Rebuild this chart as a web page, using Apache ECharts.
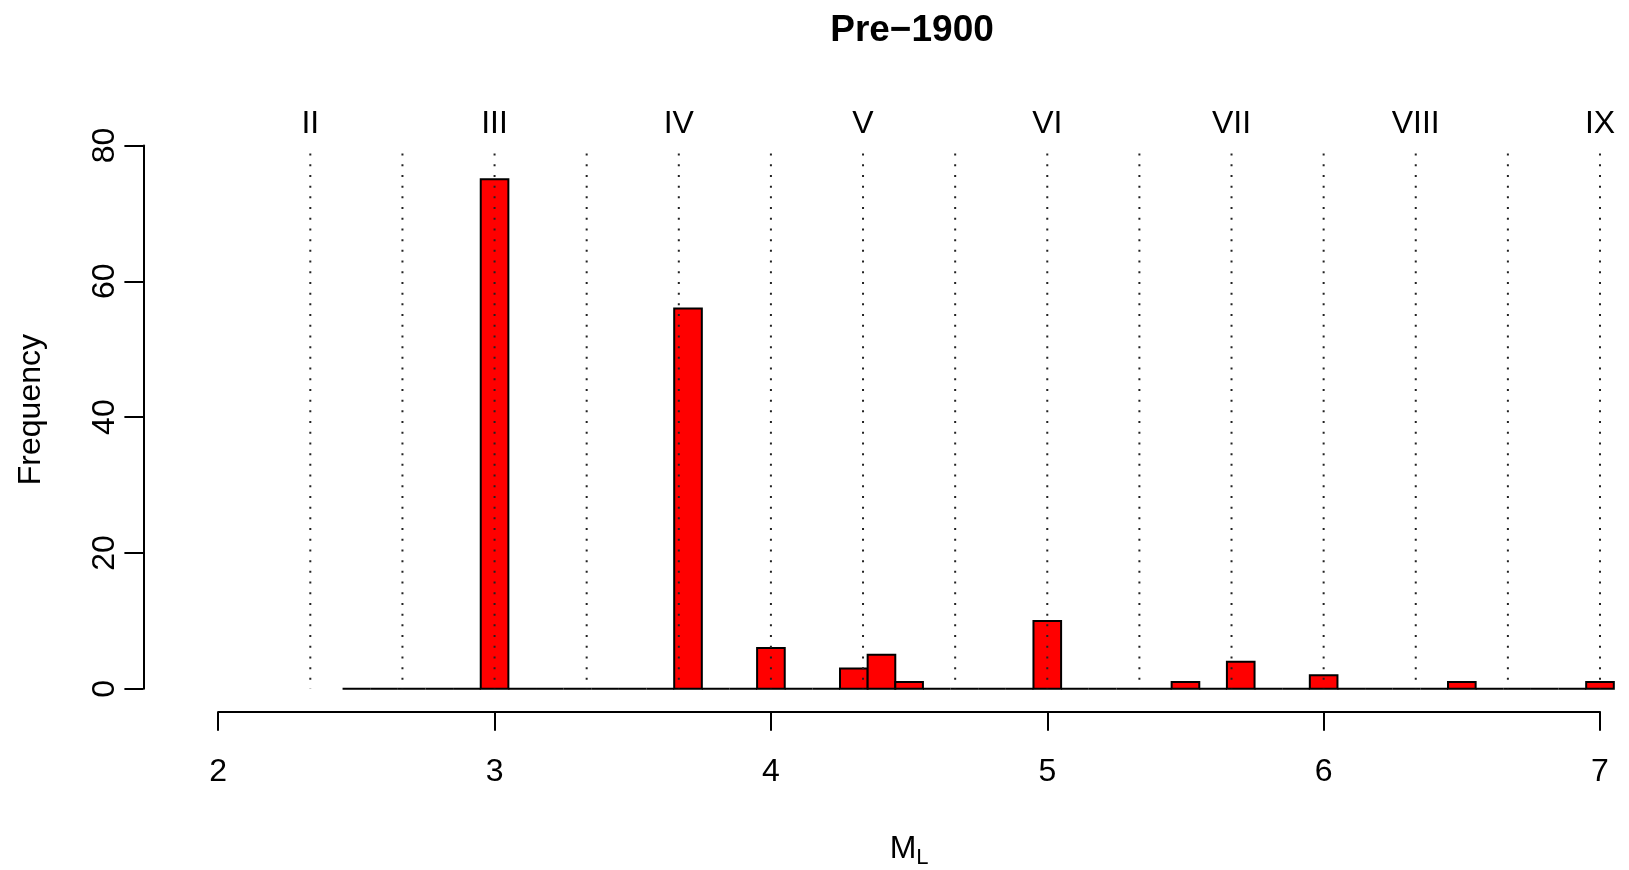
<!DOCTYPE html>
<html>
<head>
<meta charset="utf-8">
<script src="https://cdn.jsdelivr.net/npm/echarts@6/dist/echarts.min.js"></script>
<style>
html,body{margin:0;padding:0;background:#fff;}
#chart{width:1629px;height:870px;}
</style>
</head>
<body>
<div id="chart"></div>
<script>
// ---- data ----
const binMids = [2.5, 2.6, 2.7, 2.8, 2.9, 3.0, 3.1, 3.2, 3.3, 3.4, 3.5, 3.6, 3.7, 3.8, 3.9,
                 4.0, 4.1, 4.2, 4.3, 4.4, 4.5, 4.6, 4.7, 4.8, 4.9, 5.0, 5.1, 5.2, 5.3, 5.4,
                 5.5, 5.6, 5.7, 5.8, 5.9, 6.0, 6.1, 6.2, 6.3, 6.4, 6.5, 6.6, 6.7, 6.8, 6.9, 7.0];
const counts  = [0, 0, 0, 0, 0, 75, 0, 0, 0, 0, 0, 0, 56, 0, 0,
                 6, 0, 0, 3, 5, 1, 0, 0, 0, 0, 10, 0, 0, 0, 0,
                 1, 0, 4, 0, 0, 2, 0, 0, 0, 0, 1, 0, 0, 0, 0, 1];
const binWidth = 0.1;
const xTickValues = [2, 3, 4, 5, 6, 7];
const yTickValues = [0, 20, 40, 60, 80];
const romanLabels = ['II', 'III', 'IV', 'V', 'VI', 'VII', 'VIII', 'IX'];
const romanPos = [2.3333, 3.0, 3.6667, 4.3333, 5.0, 5.6667, 6.3333, 7.0];
const guidePos = [2.3333, 2.6667, 3.0, 3.3333, 3.6667, 4.0, 4.3333, 4.6667,
                  5.0, 5.3333, 5.6667, 6.0, 6.3333, 6.6667, 7.0];
const titleText = 'Pre\u22121900';
const yName = 'Frequency';

// ---- chart ----
const FONT = '"Liberation Sans", Arial, Helvetica, sans-serif';
const chart = echarts.init(document.getElementById('chart'), null, {renderer: 'canvas'});

const GL = 218.2, GR = 29;
const option = {
  backgroundColor: '#ffffff',
  animation: false,
  title: {
    text: titleText,
    left: 907,
    textAlign: 'center',
    top: 7,
    textStyle: {fontFamily: FONT, fontSize: 37, fontWeight: 'bold', color: '#000'}
  },
  grid: [
    {left: GL, right: GR, top: 145.4, height: 543.4},
    {left: GL, right: GR, top: 710.7, height: 1}
  ],
  xAxis: [
    {gridIndex: 0, type: 'value', min: 2, max: 7, show: false},
    {gridIndex: 1, type: 'value', min: xTickValues[0], max: xTickValues[xTickValues.length - 1], interval: 1,
     position: 'bottom',
     axisLine: {show: true, lineStyle: {color: '#000', width: 2}},
     axisTick: {show: true, length: 19, lineStyle: {color: '#000', width: 2}},
     axisLabel: {fontFamily: FONT, fontSize: 32, color: '#000', margin: 44},
     splitLine: {show: false},
     name: '{m|M}{s|L}',
     nameLocation: 'middle',
     nameGap: 121,
     nameTextStyle: {
       rich: {
         m: {fontFamily: FONT, fontSize: 32, color: '#000', lineHeight: 36, verticalAlign: 'top'},
         s: {fontFamily: FONT, fontSize: 22, color: '#000', lineHeight: 36, verticalAlign: 'bottom'}
       }
     }
    }
  ],
  yAxis: [
    {gridIndex: 0, type: 'value', min: yTickValues[0], max: yTickValues[yTickValues.length - 1], interval: 20,
     position: 'left', offset: 74.8,
     axisLine: {show: true, lineStyle: {color: '#000', width: 2}},
     axisTick: {show: true, length: 19, lineStyle: {color: '#000', width: 2}},
     axisLabel: {fontFamily: FONT, fontSize: 32, color: '#000', rotate: 90, margin: 22},
     splitLine: {show: false},
     name: yName,
     nameLocation: 'middle',
     nameRotate: 90,
     nameGap: 96,
     nameTextStyle: {fontFamily: FONT, fontSize: 32, color: '#000', padding: [0, 0, 0, 15]}
    },
    {gridIndex: 1, type: 'value', min: 0, max: 1, show: false}
  ],
  series: [
    {
      type: 'custom',
      xAxisIndex: 0, yAxisIndex: 0,
      clip: false,
      data: binMids.map((m, i) => [m - binWidth / 2, m + binWidth / 2, counts[i]]),
      encode: {x: [0, 1], y: 2},
      renderItem: function (params, api) {
        const p0 = api.coord([api.value(0), 0]);
        const p1 = api.coord([api.value(1), api.value(2)]);
        return {
          type: 'rect',
          shape: {x: p0[0], y: p1[1], width: p1[0] - p0[0], height: p0[1] - p1[1]},
          style: {fill: '#ff0000', stroke: '#000', lineWidth: 2}
        };
      },
      z: 2
    },
    {
      type: 'custom',
      xAxisIndex: 0, yAxisIndex: 0,
      clip: false,
      data: guidePos.map(x => [x]),
      encode: {x: 0},
      renderItem: function (params, api) {
        const top = api.coord([api.value(0), 78.8]);
        const bot = api.coord([api.value(0), 0]);
        return {
          type: 'line',
          shape: {x1: top[0], y1: top[1], x2: bot[0], y2: bot[1]},
          style: {stroke: '#222', lineWidth: 2, lineDash: [2, 8.7]}
        };
      },
      z: 3
    },
    {
      type: 'custom',
      xAxisIndex: 0, yAxisIndex: 0,
      clip: false,
      data: romanPos.map((x, i) => [x, 83.1, i]),
      encode: {x: 0, y: 1},
      renderItem: function (params, api) {
        const p = api.coord([api.value(0), api.value(1)]);
        return {
          type: 'text',
          x: p[0], y: p[1],
          style: {
            text: romanLabels[api.value(2)],
            fontFamily: FONT, fontSize: 32, fill: '#000',
            align: 'center', verticalAlign: 'middle'
          }
        };
      },
      z: 3
    }
  ]
};
chart.setOption(option);
</script>
</body>
</html>
